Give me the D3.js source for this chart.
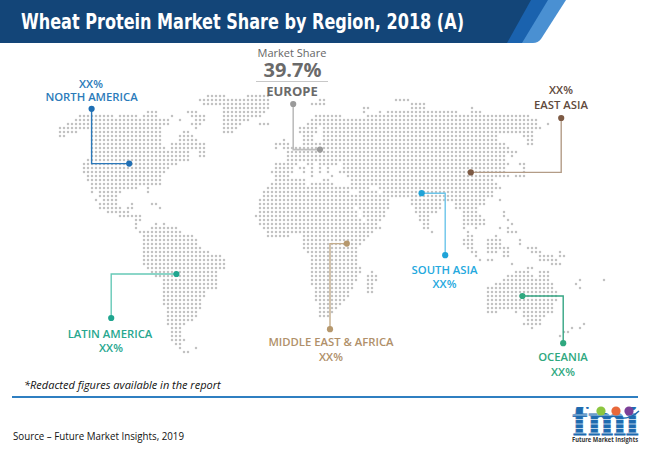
<!DOCTYPE html>
<html>
<head>
<meta charset="utf-8">
<script src="https://cdn.jsdelivr.net/npm/d3@7"></script>
<style>
  html, body { margin: 0; padding: 0; background: #fff; }
  svg { display: block; }
  text { font-family: "Open Sans", "Noto Sans", sans-serif; }
</style>
</head>
<body>
<div id="chart"></div>
<script>
// TEXTS
const titleText = "Wheat Protein Market Share by Region, 2018 (A)";
const footnoteText = "*Redacted figures available in the report";
const sourceText = "Source – Future Market Insights, 2019";

// REGIONS
const regionNames = ["NORTH AMERICA", "EUROPE", "EAST ASIA", "SOUTH ASIA", "LATIN AMERICA", "MIDDLE EAST & AFRICA", "OCEANIA"];
const regionShares = ["XX%", "39.7%", "XX%", "XX%", "XX%", "XX%", "XX%"];
const regionColors = ["#1f6fb4", "#9a9a9a", "#7d5a44", "#1fa3d8", "#1fa58f", "#b6986d", "#2fa87f"];
const lineColors = ["#2a78ba", "#bdbdbd", "#b39c87", "#6cc5ea", "#66c9b7", "#c4ad8c", "#35a583"];
const labelColors = ["#2b7bba", "#6a6a6a", "#5f4a3c", "#25a9de", "#27a78f", "#b0906a", "#2fa880"];

// LAND ROWS: [row, from, to, from, to, ...] in grid cells
const northAmerica = [
  [4, 23, 25, 33, 35], [5, 6, 14, 16, 20, 22, 25, 29, 29, 34, 37], [6, 5, 28, 31, 31, 35, 37],
  [7, 3, 28, 34, 36], [8, 1, 8, 9, 26, 35, 35], [9, 1, 5, 9, 26, 32, 33], [10, 1, 2, 9, 26, 31, 34],
  [11, 9, 26, 31, 35], [12, 9, 26, 29, 37], [13, 9, 27, 29, 37], [14, 9, 33, 36, 37], [15, 9, 33, 36, 37],
  [16, 8, 33], [17, 7, 30], [18, 7, 28], [19, 7, 27], [20, 8, 26], [21, 8, 26], [22, 9, 26],
  [23, 9, 20, 23, 23], [24, 9, 9, 11, 16, 23, 23], [25, 11, 15], [26, 10, 10, 12, 15],
  [27, 11, 15, 19, 19, 24, 25], [28, 11, 16, 18, 19, 26, 26], [29, 13, 18], [30, 16, 21], [31, 20, 21]
];
const greenland = [
  [0, 38, 42, 48, 53], [1, 36, 53], [2, 37, 53], [3, 42, 53], [4, 42, 52], [5, 42, 51],
  [6, 42, 48], [7, 42, 46, 51, 53], [8, 42, 45], [9, 42, 44]
];
const southAmerica = [
  [32, 20, 20, 25, 25, 27, 27], [33, 20, 20, 24, 30], [34, 21, 31], [35, 22, 34], [36, 22, 35], [37, 22, 35],
  [38, 22, 36], [39, 22, 38], [40, 22, 41], [41, 22, 42], [42, 22, 42], [43, 23, 42], [44, 24, 40],
  [45, 25, 40], [46, 27, 40], [47, 27, 40], [48, 27, 40], [49, 27, 37], [50, 27, 37], [51, 27, 36],
  [52, 27, 36], [53, 28, 36], [54, 28, 35], [55, 28, 35], [56, 28, 34], [57, 28, 32], [58, 29, 31],
  [59, 29, 31], [60, 29, 31], [61, 29, 32], [62, 30, 31], [63, 31, 31, 35, 35], [64, 32, 33]
];
const eurasia = [
  [1, 66, 67, 85, 88], [2, 64, 67, 89, 92], [3, 77, 78, 89, 92, 104, 104],
  [4, 77, 77, 81, 81, 83, 100, 104, 106], [5, 65, 71, 78, 118], [6, 64, 72, 73, 120], [7, 63, 120, 123, 123],
  [8, 61, 65, 67, 121], [9, 61, 65, 67, 119], [10, 62, 64, 67, 110, 117, 119],
  [11, 57, 57, 62, 64, 67, 110, 118, 119], [12, 55, 56, 57, 58, 62, 65, 66, 112, 118, 119],
  [13, 55, 55, 57, 113], [14, 58, 115], [15, 58, 112, 114, 114], [16, 58, 63, 64, 112],
  [17, 55, 57, 58, 60, 63, 64, 66, 70, 72, 113, 116, 117],
  [18, 55, 59, 61, 62, 64, 64, 66, 66, 68, 68, 72, 112, 117, 117],
  [19, 54, 59, 62, 62, 64, 64, 66, 66, 68, 68, 71, 112, 117, 117],
  [20, 55, 58, 64, 64, 69, 69, 73, 113, 115, 117], [21, 55, 62, 67, 68, 74, 109], [22, 54, 62, 64, 69, 74, 110],
  [23, 74, 78, 81, 111], [24, 76, 80, 82, 109], [25, 74, 109], [26, 74, 83, 89, 107, 111, 111],
  [27, 75, 83, 89, 96, 100, 107], [28, 76, 83, 90, 96, 100, 105], [29, 77, 82, 90, 95, 102, 105, 112, 112],
  [30, 77, 82, 91, 93, 102, 106, 112, 112], [31, 78, 81, 91, 93, 102, 107, 113, 113],
  [32, 78, 80, 92, 93, 102, 107, 114, 114], [33, 92, 93, 102, 102, 105, 105, 111, 111, 113, 113],
  [34, 94, 94, 103, 103, 113, 115], [35, 103, 104, 110, 110], [36, 102, 104, 108, 111, 116, 116],
  [37, 102, 104, 108, 111, 116, 116], [38, 103, 104, 108, 111, 112, 113, 118, 118, 119, 120],
  [39, 104, 105, 108, 110, 112, 113, 119, 121, 126, 126], [40, 105, 105, 112, 113, 121, 124, 126, 126, 127, 127],
  [41, 106, 106, 108, 109, 121, 125], [42, 114, 114, 124, 126]
];
const africa = [
  [23, 53, 73], [24, 52, 73], [25, 52, 73], [26, 51, 73], [27, 51, 74], [28, 51, 74], [29, 51, 75], [30, 50, 75],
  [31, 51, 76], [32, 51, 77], [33, 52, 81], [34, 53, 79], [35, 53, 58, 62, 78], [36, 62, 77], [37, 62, 76],
  [38, 62, 75], [39, 63, 75], [40, 64, 75], [41, 64, 75], [42, 64, 75], [43, 64, 76], [44, 64, 76, 79, 79],
  [45, 64, 75, 78, 80], [46, 64, 75, 78, 80], [47, 64, 74, 78, 79], [48, 65, 74, 78, 79], [49, 65, 73, 78, 79],
  [50, 65, 73], [51, 65, 72], [52, 66, 71], [53, 66, 70], [54, 66, 69], [55, 66, 68]
];
const oceania = [
  [43, 118, 119], [44, 115, 118, 121, 123], [45, 113, 119, 121, 123], [46, 112, 123, 131, 131, 137, 137],
  [47, 110, 124, 130, 130], [48, 108, 124, 131, 131], [49, 108, 125], [50, 108, 125], [51, 108, 125],
  [52, 108, 124], [53, 108, 124], [54, 108, 110, 115, 115, 117, 124], [55, 117, 122], [56, 118, 121],
  [57, 117, 121, 132, 132], [58, 119, 119, 129, 129, 131, 131], [59, 127, 128], [60, 126, 126]
];

// LEADER LINES in grid cells: [labelEnd, elbow, regionEnd]
const leaders = [
  [[8.9, 3.2], [8.9, 16.9], [18.3, 16.9]],
  [[59.3, 2], [59.3, 13.4], [66, 13.4]],
  [[126.3, 5.5], [126.3, 19.1], [103.7, 19.1]],
  [[91.4, 24.3], [97.3, 24.3], [97.3, 39.8]],
  [[30.1, 44.5], [13.8, 44.5], [13.8, 55.5]],
  [[72.7, 36.9], [68.5, 36.9], [68.5, 58.3]],
  [[116.6, 50], [126.8, 50], [126.8, 61.8]]
];

const width = 650;
const height = 449;

const xGrid = d3.scaleLinear().domain([0, 137]).range([56, 604]);
const yGrid = d3.scaleLinear().domain([0, 64]).range([96, 352]);

const svg = d3.select("#chart").append("svg").attr("width", width).attr("height", height);

// HEADER BAND
const band = svg.append("g");
band.append("path").attr("d", "M512,43 L536,0 L566,0 L541,39 Q538,43 533,43 Z").attr("fill", "#4a90d2");
band.append("path").attr("d", "M505,43 L529,0 L548,0 L522,43 Z").attr("fill", "#1a62ae");
band.append("path").attr("d", "M0,0 L531,0 L507,43 L0,43 Z").attr("fill", "#134578");
svg.append("text")
  .attr("x", 21).attr("y", 28.5)
  .attr("textLength", 443).attr("lengthAdjust", "spacingAndGlyphs")
  .style("font-family", '"DejaVu Sans Condensed", "DejaVu Sans"')
  .style("font-weight", 700).style("font-size", "21px").attr("fill", "#fff")
  .text(titleText);

// DOT MAP
const cells = [];
[northAmerica, greenland, southAmerica, eurasia, africa, oceania].forEach(rows => {
  rows.forEach(row => {
    for (let i = 1; i < row.length; i += 2) {
      d3.range(row[i], row[i + 1] + 1).forEach(col => cells.push({ row: row[0], col }));
    }
  });
});
svg.append("g").selectAll("circle").data(cells).enter().append("circle")
  .attr("cx", d => xGrid(d.col)).attr("cy", d => yGrid(d.row))
  .attr("r", 1.25).attr("fill", "#c2c2c2");

// LEADER LINES
const line = d3.line().x(d => xGrid(d[0])).y(d => yGrid(d[1]));
const leaderGroups = svg.append("g").selectAll("g").data(leaders).enter().append("g");
leaderGroups.append("path")
  .attr("d", d => line(d)).attr("fill", "none")
  .attr("stroke", (d, i) => lineColors[i]).attr("stroke-width", (d, i) => (i === 1 ? 1.6 : 1.4));
[0, 2].forEach(end => {
  leaderGroups.append("circle")
    .attr("cx", d => xGrid(d[end][0])).attr("cy", d => yGrid(d[end][1]))
    .attr("r", 3.1).attr("fill", (d, i) => regionColors[i]);
});

// REGION LABELS
const addLabel = (text, x, y, color, size, weight) => {
  svg.append("text").attr("x", x).attr("y", y).attr("text-anchor", "middle")
    .attr("fill", color).style("font-size", `${size}px`).style("font-weight", weight).text(text);
};
const labelSize = 11.3;
// north america, east asia: share above name
addLabel(regionShares[0], 91, 88, labelColors[0], labelSize, 600);
addLabel(regionNames[0], 91.5, 101, labelColors[0], labelSize, 600);
addLabel(regionShares[2], 561, 94, labelColors[2], labelSize, 600);
addLabel(regionNames[2], 561, 109, labelColors[2], labelSize, 600);
// the rest: name above share
addLabel(regionNames[3], 444.5, 274, labelColors[3], labelSize, 600);
addLabel(regionShares[3], 444.5, 288, labelColors[3], labelSize, 600);
addLabel(regionNames[4], 110, 338, labelColors[4], labelSize, 600);
addLabel(regionShares[4], 111, 352, labelColors[4], labelSize, 600);
addLabel(regionNames[5], 331, 346, labelColors[5], labelSize, 600);
addLabel(regionShares[5], 331, 361, labelColors[5], labelSize, 600);
addLabel(regionNames[6], 563, 361, labelColors[6], labelSize, 600);
addLabel(regionShares[6], 563, 376, labelColors[6], labelSize, 600);

// EUROPE CALLOUT
addLabel("Market Share", 292, 57, "#666", 11, 400);
addLabel(regionShares[1], 292.5, 77, "#6a6a6a", 20, 700);
svg.append("line").attr("x1", 256).attr("x2", 328).attr("y1", 81.5).attr("y2", 81.5)
  .attr("stroke", "#c8c8c8").attr("stroke-width", 1);
addLabel(regionNames[1], 292, 96, labelColors[1], 13, 700);

// FOOTER
svg.append("text").attr("x", 24).attr("y", 389).attr("fill", "#111")
  .style("font-size", "11px").style("font-style", "italic").text(footnoteText);
svg.append("rect").attr("x", 12).attr("y", 396).attr("width", 626).attr("height", 2).attr("fill", "#2f7fc1");
svg.append("text").attr("x", 13).attr("y", 440).attr("fill", "#111")
  .attr("textLength", 171).attr("lengthAdjust", "spacingAndGlyphs")
  .style("font-size", "10.5px").text(sourceText);

// LOGO
const logo = svg.append("g");
logo.append("clipPath").attr("id", "logoClip").append("rect")
  .attr("x", 570).attr("y", 407).attr("width", 72).attr("height", 29);
logo.append("text").attr("x", 605.5).attr("y", 435).attr("text-anchor", "middle")
  .attr("textLength", 66).attr("lengthAdjust", "spacingAndGlyphs")
  .attr("clip-path", "url(#logoClip)")
  .style("font-family", '"Liberation Serif"').style("font-weight", 700).style("font-size", "47px")
  .attr("fill", "#1e6bb0").attr("stroke", "#1e6bb0").attr("stroke-width", 0.8).text("fmi");
d3.range(5).forEach(i => {
  logo.append("line").attr("x1", 570).attr("x2", 640)
    .attr("y1", 415 + i * 4.5).attr("y2", 415 + i * 4.5)
    .attr("stroke", "#fff").attr("stroke-width", 0.7);
});
logo.append("path").attr("d", "M617,418 Q630,420 639,411").attr("fill", "none")
  .attr("stroke", "#1e6bb0").attr("stroke-width", 1.5);
[[601, "#8cc63f"], [616, "#e8683a"], [629, "#7b3f98"]].forEach(d => {
  logo.append("circle").attr("cx", d[0]).attr("cy", 411).attr("r", 4.6).attr("fill", d[1]);
});
logo.append("text").attr("x", 572).attr("y", 442)
  .attr("textLength", 66).attr("lengthAdjust", "spacingAndGlyphs")
  .style("font-size", "6.2px").style("font-weight", 700).attr("fill", "#333").text("Future Market Insights");
</script>
</body>
</html>
